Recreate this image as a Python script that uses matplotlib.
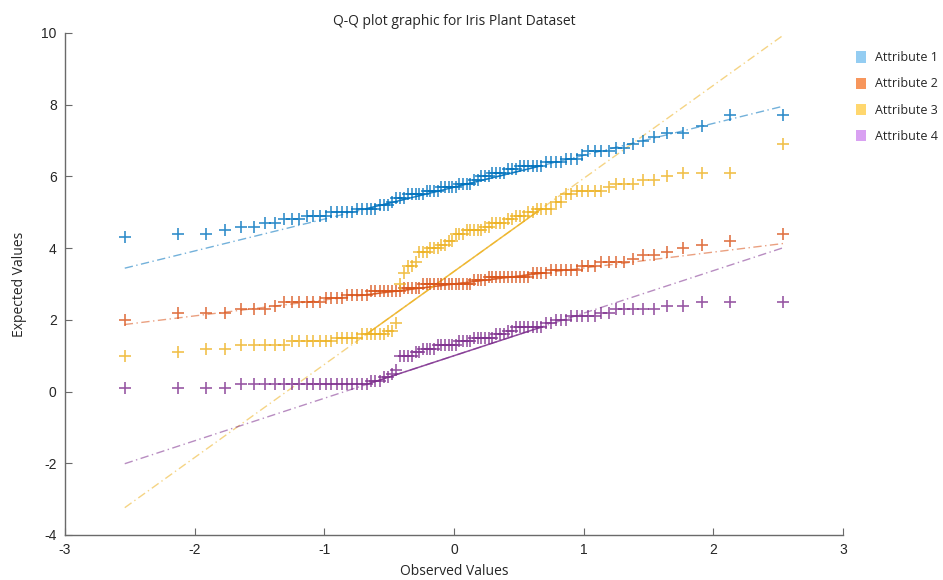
import matplotlib
matplotlib.use("Agg")
import matplotlib.pyplot as plt
import matplotlib.patches as mpatches
import numpy as np
from statistics import NormalDist

plt.rcParams["axes.unicode_minus"] = False

# ---------------------------------------------------------------------------
# Data: sorted attribute values (value, count) pairs
# ---------------------------------------------------------------------------
ATTR1_VALUES = [4.3, 4.4, 4.5, 4.6, 4.7, 4.8, 4.9, 5.0, 5.1, 5.2, 5.3, 5.4, 5.5,
                5.6, 5.7, 5.8, 5.9, 6.0, 6.1, 6.2, 6.3, 6.4, 6.5, 6.6, 6.7, 6.8,
                6.9, 7.0, 7.1, 7.2, 7.4, 7.7]
ATTR1_COUNTS = [1, 2, 1, 2, 2, 3, 4, 5, 5, 3, 1, 3, 5,
                4, 5, 4, 2, 3, 4, 3, 6, 4, 3, 1, 4, 2,
                1, 1, 1, 2, 1, 2]

ATTR2_VALUES = [2.0, 2.2, 2.3, 2.4, 2.5, 2.6, 2.7, 2.8, 2.9, 3.0, 3.1, 3.2, 3.3,
                3.4, 3.5, 3.6, 3.7, 3.8, 3.9, 4.0, 4.1, 4.2, 4.4]
ATTR2_COUNTS = [1, 3, 3, 1, 6, 4, 5, 8, 5, 14, 4, 11, 4,
                6, 3, 4, 1, 2, 1, 1, 1, 1, 1]

ATTR3_VALUES = [1.0, 1.1, 1.2, 1.3, 1.4, 1.5, 1.6, 1.7, 1.9, 3.0, 3.3, 3.5, 3.6,
                3.9, 4.0, 4.1, 4.2, 4.4, 4.5, 4.6, 4.7, 4.8, 4.9, 5.0, 5.1, 5.3,
                5.5, 5.6, 5.7, 5.8, 5.9, 6.0, 6.1, 6.9]
ATTR3_COUNTS = [1, 1, 2, 5, 7, 5, 6, 2, 1, 1, 1, 2, 1,
                3, 3, 2, 2, 3, 5, 2, 4, 2, 3, 2, 4, 2,
                2, 5, 1, 3, 2, 1, 3, 1]

ATTR4_VALUES = [0.1, 0.2, 0.3, 0.4, 0.5, 0.6, 1.0, 1.1, 1.2, 1.3, 1.4, 1.5, 1.6,
                1.7, 1.8, 1.9, 2.0, 2.1, 2.2, 2.3, 2.4, 2.5]
ATTR4_COUNTS = [4, 19, 3, 2, 1, 1, 4, 2, 4, 6, 4, 6, 3,
                2, 7, 2, 3, 5, 2, 5, 2, 3]

LABELS = ["Attribute 1", "Attribute 2", "Attribute 3", "Attribute 4"]

# MATLAB default line colours for the markers / lines
COLORS = ["#0072BD", "#D95319", "#EDB120", "#7E2F8E"]
# lighter swatches used in the legend
LEGEND_COLORS = ["#94CDF2", "#F7965C", "#FFD76E", "#D9A1F2"]

AX_COL = "#6A6A6A"
TXT_COL = "#262626"


def prctile(x, p):
    """MATLAB style percentile of a sorted array."""
    n = len(x)
    r = n * p / 100.0 + 0.5
    if r <= 1:
        return x[0]
    if r >= n:
        return x[-1]
    lo = int(np.floor(r))
    frac = r - lo
    return x[lo - 1] + frac * (x[lo] - x[lo - 1])


def main():
    series = [
        np.repeat(ATTR1_VALUES, ATTR1_COUNTS),
        np.repeat(ATTR2_VALUES, ATTR2_COUNTS),
        np.repeat(ATTR3_VALUES, ATTR3_COUNTS),
        np.repeat(ATTR4_VALUES, ATTR4_COUNTS),
    ]

    fig = plt.figure(figsize=(9.43, 5.80), dpi=100)
    ax = fig.add_axes([65 / 943, 45 / 580, 778 / 943, 502 / 580])

    for y, col in zip(series, COLORS):
        y = np.sort(y)
        n = len(y)
        # theoretical normal quantiles at plotting positions (i - 0.5) / n
        x = np.array([NormalDist().inv_cdf((i - 0.5) / n) for i in range(1, n + 1)])

        # reference line through the quartiles (qqplot convention)
        qx1, qx3 = prctile(x, 25), prctile(x, 75)
        qy1, qy3 = prctile(y, 25), prctile(y, 75)
        slope = (qy3 - qy1) / (qx3 - qx1)
        ends = np.array([x[0], x[-1]])
        ax.plot(ends, qy1 + slope * (ends - qx1), color=col, lw=1.0,
                ls=(0, (6, 2.5, 1, 2.5)), alpha=0.55, zorder=2)
        ax.plot([qx1, qx3], [qy1, qy3], color=col, lw=1.1, alpha=0.85, zorder=2)

        ax.plot(x, y, ls="none", marker="+", ms=8, mew=1.2, color=col,
                alpha=0.8, zorder=3)

    ax.set_xlim(-3, 3)
    ax.set_ylim(-4, 10)
    ax.set_xticks(range(-3, 4))
    ax.set_yticks(range(-4, 11, 2))

    for side in ("top", "right"):
        ax.spines[side].set_visible(False)
    for side in ("left", "bottom"):
        ax.spines[side].set_color(AX_COL)
        ax.spines[side].set_linewidth(1.0)
    ax.tick_params(direction="in", length=5, width=0.8, color=AX_COL,
                   labelcolor=TXT_COL, labelsize=10, pad=6)
    for lab in ax.get_xticklabels() + ax.get_yticklabels():
        lab.set_family("Liberation Sans")

    ax.set_title("Q-Q plot graphic for Iris Plant Dataset", fontsize=10,
                 family="Open Sans", color=TXT_COL, pad=6)
    ax.set_xlabel("Observed Values", fontsize=10, family="Open Sans",
                  color=TXT_COL, labelpad=5)
    ax.set_ylabel("Expected Values", fontsize=10, family="Open Sans",
                  color=TXT_COL, labelpad=10)

    handles = [mpatches.Patch(facecolor=c, edgecolor="none", label=l)
               for c, l in zip(LEGEND_COLORS, LABELS)]
    leg = fig.legend(handles=handles, loc="upper left",
                     bbox_to_anchor=(845 / 943, 1 - 40 / 580), frameon=False,
                     handlelength=0.75, handleheight=1.0, handletextpad=0.75,
                     labelspacing=1.05, prop={"family": "Open Sans", "size": 9})
    for t in leg.get_texts():
        t.set_color(TXT_COL)

    fig.savefig("out.png", dpi=100)
    plt.close(fig)


if __name__ == "__main__":
    main()
